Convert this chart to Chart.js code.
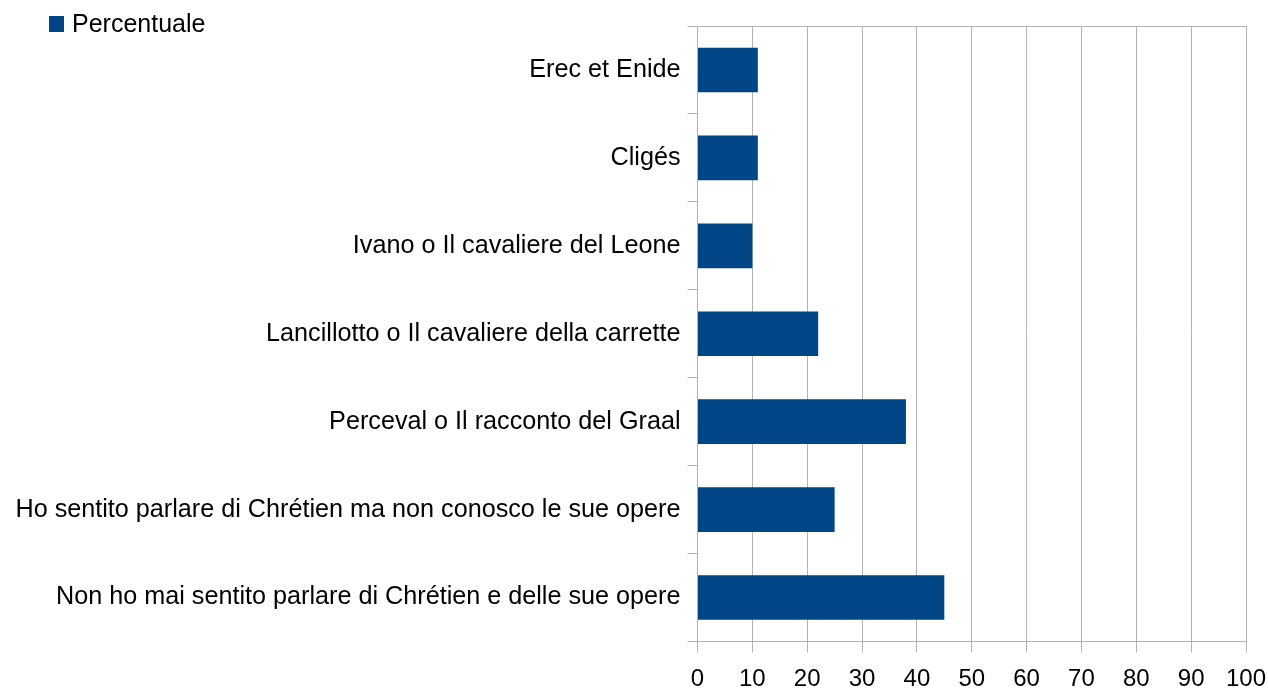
<!DOCTYPE html>
<html>
<head>
<meta charset="utf-8">
<script src="https://cdn.jsdelivr.net/npm/chart.js@4"></script>
<style>
html,body{margin:0;padding:0;background:#fff;}
#wrap{width:1268px;height:688px;position:relative;}
</style>
</head>
<body>
<div id="wrap"><canvas id="c" width="1268" height="688"></canvas></div>
<script>
const categories = [
  "Erec et Enide",
  "Cligés",
  "Ivano o Il cavaliere del Leone",
  "Lancillotto o Il cavaliere della carrette",
  "Perceval o Il racconto del Graal",
  "Ho sentito parlare di Chrétien ma non conosco le sue opere",
  "Non ho mai sentito parlare di Chrétien e delle sue opere"
];
const seriesName = "Percentuale";
const percentuale = [11, 11, 10, 22, 38, 25, 45];
const xTicks = [0, 10, 20, 30, 40, 50, 60, 70, 80, 90, 100];

const BAR = '#004586';
const GRID = '#b3b3b3';
const FONT = "'Liberation Sans', Arial, sans-serif";

const legendPlugin = {
  id: 'customLegend',
  afterDraw(chart) {
    const ctx = chart.ctx;
    const ds = chart.data.datasets[0];
    ctx.save();
    ctx.fillStyle = ds.backgroundColor;
    ctx.fillRect(49, 16, 15, 16);
    ctx.fillStyle = '#000';
    ctx.font = '25px ' + FONT;
    ctx.textBaseline = 'middle';
    ctx.textAlign = 'left';
    ctx.fillText(ds.label, 72, 25);
    ctx.restore();
  }
};

new Chart(document.getElementById('c'), {
  type: 'bar',
  data: {
    labels: categories,
    datasets: [{
      label: seriesName,
      data: percentuale,
      backgroundColor: BAR,
      borderWidth: 0,
      categoryPercentage: 1,
      barPercentage: 0.508
    }]
  },
  options: {
    indexAxis: 'y',
    responsive: false,
    animation: false,
    devicePixelRatio: 1,
    layout: { padding: { top: 26, right: 22, left: 0, bottom: 0 } },
    plugins: {
      legend: { display: false },
      tooltip: { enabled: false }
    },
    scales: {
      x: {
        min: 0,
        max: 100,
        afterBuildTicks(axis) { axis.ticks = xTicks.map(v => ({ value: v })); },
        afterFit(axis) { axis.height = 46.5; axis.paddingLeft = 0; axis.paddingRight = 0; },
        grid: {
          color: GRID,
          tickColor: GRID,
          lineWidth: 1,
          tickLength: 11,
          drawTicks: true
        },
        border: { display: true, color: GRID, width: 1 },
        ticks: {
          color: '#000',
          font: { family: FONT, size: 24 },
          padding: 12,
          maxRotation: 0
        }
      },
      y: {
        afterFit(axis) { axis.width = 697.5; axis.paddingTop = 0; axis.paddingBottom = 0; },
        grid: {
          offset: true,
          color: (c) => (c.index === 0 ? GRID : 'rgba(0,0,0,0)'),
          tickColor: GRID,
          lineWidth: 1,
          tickLength: 10,
          drawTicks: true
        },
        border: { display: true, color: GRID, width: 1 },
        ticks: {
          color: '#000',
          font: { family: FONT, size: 25.2 },
          padding: 7,
          autoSkip: false
        }
      }
    }
  },
  plugins: [legendPlugin]
});
</script>
</body>
</html>
